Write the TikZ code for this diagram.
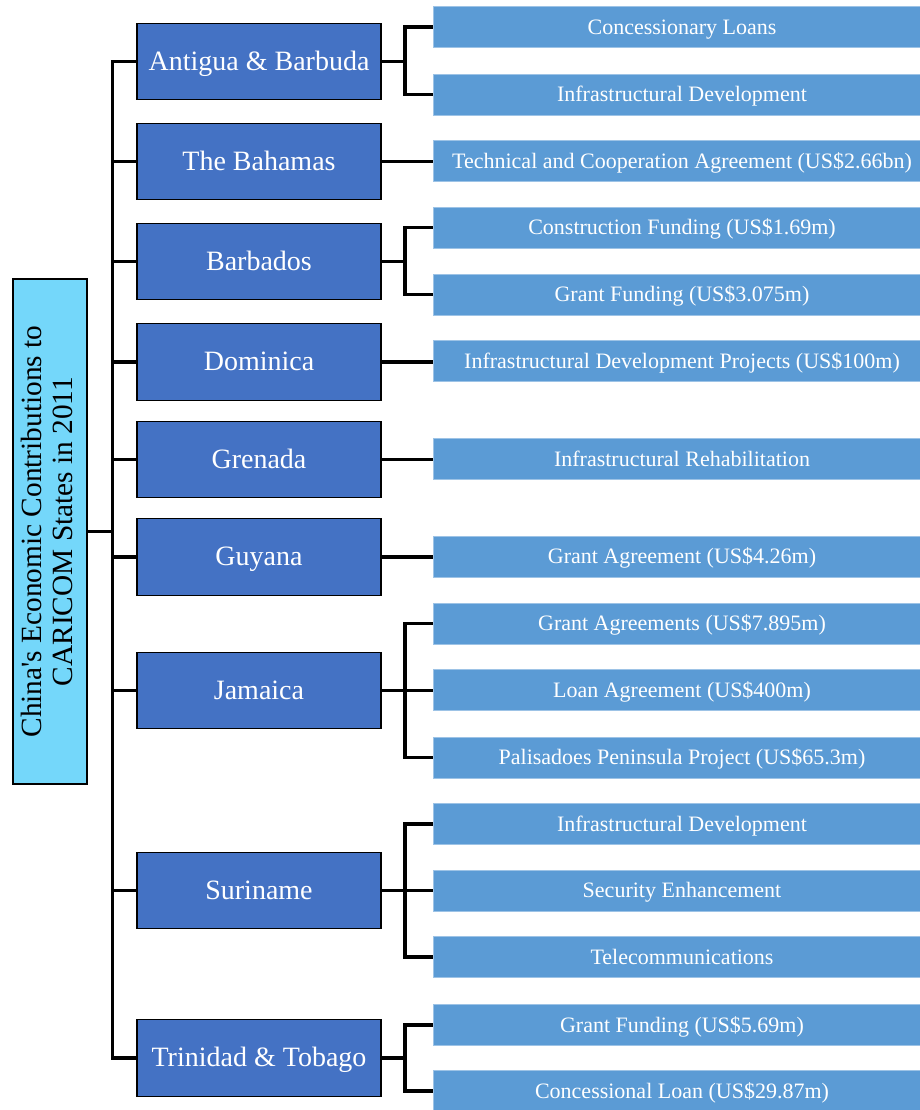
\documentclass[tikz,border=0pt]{standalone}
\usepackage{fontspec}
\setmainfont{Liberation Serif}
\usepackage{graphicx}
\definecolor{titlefill}{HTML}{74D7FA}
\definecolor{countryfill}{HTML}{4472C4}
\definecolor{itemfill}{HTML}{5B9BD5}
\definecolor{itemedge}{HTML}{9DC3E6}
\begin{document}
\begin{tikzpicture}[x=0.75pt,y=-0.75pt,
  titlebox/.style={draw=black,line width=1.6pt,fill=titlefill,minimum width=56pt,minimum height=379pt,inner sep=0pt,text=black,font=\fontsize{22}{25}\selectfont},
  country/.style={draw=black,line width=0.9pt,fill=countryfill,minimum width=183pt,minimum height=57.5pt,inner sep=0pt,text=white,text height=17pt,text depth=4.2pt,font=\fontsize{21}{24}\selectfont},
  item/.style={draw=itemedge,line width=0.5pt,fill=itemfill,minimum width=373.5pt,minimum height=31pt,inner sep=0pt,text=white,text height=14.5pt,text depth=3.5pt,font=\fontsize{16.5}{19}\selectfont},
  link/.style={draw=black,line width=2.3pt}]
\useasboundingbox (0,0) rectangle (920,1110);
% title
\node[titlebox] (title) at (50,531.5) {\rotatebox{90}{\begin{tabular}{@{}c@{}}China\textquotesingle s Economic Contributions to\\[-2pt] CARICOM States in 2011\end{tabular}}};
% countries
\node[country] (ag) at (259,61.5) {Antigua \& Barbuda};
\node[country] (bh) at (259,161.5) {The Bahamas};
\node[country] (bb) at (259,261.5) {Barbados};
\node[country] (dm) at (259,362) {Dominica};
\node[country] (gd) at (259,459.5) {Grenada};
\node[country] (gy) at (259,557) {Guyana};
\node[country] (jm) at (259,690.5) {Jamaica};
\node[country] (sr) at (259,890.5) {Suriname};
\node[country] (tt) at (259,1058) {Trinidad \& Tobago};
% items
\node[item] (ag1) at (682,27) {Concessionary Loans};
\node[item] (ag2) at (682,94.5) {Infrastructural Development};
\node[item] (bh1) at (682,161) {Technical and Cooperation Agreement (US\$2.66bn)};
\node[item] (bb1) at (682,227.5) {Construction Funding (US\$1.69m)};
\node[item] (bb2) at (682,294.5) {Grant Funding (US\$3.075m)};
\node[item] (dm1) at (682,361) {Infrastructural Development Projects (US\$100m)};
\node[item] (gd1) at (682,459) {Infrastructural Rehabilitation};
\node[item] (gy1) at (682,556.5) {Grant Agreement (US\$4.26m)};
\node[item] (jm1) at (682,623.5) {Grant Agreements (US\$7.895m)};
\node[item] (jm2) at (682,690) {Loan Agreement (US\$400m)};
\node[item] (jm3) at (682,757.5) {Palisadoes Peninsula Project (US\$65.3m)};
\node[item] (sr1) at (682,824) {Infrastructural Development};
\node[item] (sr2) at (682,890.5) {Security Enhancement};
\node[item] (sr3) at (682,957) {Telecommunications};
\node[item] (tt1) at (682,1025) {Grant Funding (US\$5.69m)};
\node[item] (tt2) at (682,1091) {Concessional Loan (US\$29.87m)};
% trunk
\coordinate (tr) at (112.5,0);
\draw[link] (title.east) -- (title.east -| tr);
\draw[link] (ag.west) -- (ag.west -| tr) -- (tt.west -| tr) -- (tt.west);
\foreach \c in {bh,bb,dm,gd,gy,jm,sr}{\draw[link] (\c.west) -- (\c.west -| tr);}
% brackets
\coordinate (br) at (405,0);
\draw[link] (ag.east) -- (ag.east -| br);
\draw[link] (ag1.west) -- (ag1.west -| br) -- (ag2.west -| br) -- (ag2.west);
\draw[link] (bh.east) -- (bh1.west |- bh.east);
\draw[link] (bb.east) -- (bb.east -| br);
\draw[link] (bb1.west) -- (bb1.west -| br) -- (bb2.west -| br) -- (bb2.west);
\draw[link] (dm.east) -- (dm1.west |- dm.east);
\draw[link] (gd.east) -- (gd1.west |- gd.east);
\draw[link] (gy.east) -- (gy1.west |- gy.east);
\draw[link] (jm.east) -- (jm2.west |- jm.east);
\draw[link] (jm1.west) -- (jm1.west -| br) -- (jm3.west -| br) -- (jm3.west);
\draw[link] (sr.east) -- (sr2.west |- sr.east);
\draw[link] (sr1.west) -- (sr1.west -| br) -- (sr3.west -| br) -- (sr3.west);
\draw[link] (tt.east) -- (tt.east -| br);
\draw[link] (tt1.west) -- (tt1.west -| br) -- (tt2.west -| br) -- (tt2.west);
\end{tikzpicture}
\end{document}
